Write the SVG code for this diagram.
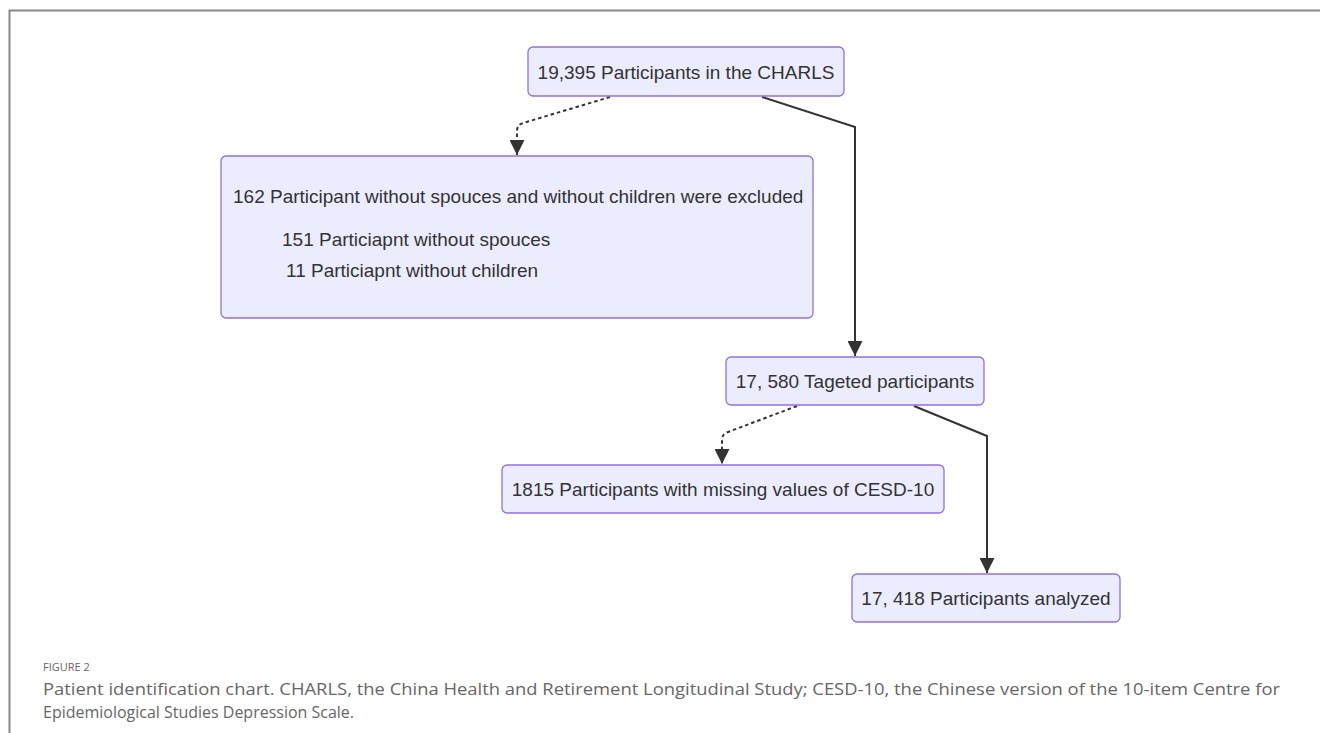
<svg xmlns="http://www.w3.org/2000/svg" width="1320" height="733" viewBox="0 0 1320 733">
<style>
.node rect{fill:#ECECFF;stroke:#9370DB;stroke-width:1.3}
.node text{font-family:"Liberation Sans",Arial,sans-serif;font-size:19px;fill:#333}
.edge{fill:none;stroke:#333;stroke-width:2}
.dash{stroke-dasharray:3.5 3}
.cap{font-family:"Open Sans",sans-serif;fill:#666}
</style>
<defs>
<marker id="arrow" viewBox="0 0 10 10" refX="10" refY="5" markerWidth="7.5" markerHeight="7.5" markerUnits="strokeWidth" orient="auto">
<path d="M0,0 L10,5 L0,10 z" fill="#333"/>
</marker>
</defs>
<rect width="1320" height="733" fill="#fff"/>
<path d="M9.5,733 V10.5 H1320" fill="none" stroke="#888" stroke-width="2"/>
<g id="connectors">
<path class="edge dash" d="M610,97 L523,123 Q517,125 517,131 V155" marker-end="url(#arrow)"/>
<path class="edge" d="M762,97 L855,127 V356" marker-end="url(#arrow)"/>
<path class="edge dash" d="M797,406 L728,432 Q722,434 722,440 V464" marker-end="url(#arrow)"/>
<path class="edge" d="M914,406 L987,436 V573" marker-end="url(#arrow)"/>
</g>
<g id="n1" class="node"><rect x="528" y="47" width="316" height="49" rx="5"/><text x="686" y="78.5" text-anchor="middle">19,395 Participants in the CHARLS</text></g>
<g id="n2" class="node"><rect x="221" y="156" width="592" height="162" rx="5"/>
<text x="233" y="203">162 Participant without spouces and without children were excluded</text>
<text x="282" y="246">151 Particiapnt without spouces</text>
<text x="286" y="277">11 Particiapnt without children</text></g>
<g id="n3" class="node"><rect x="726" y="357" width="258" height="48" rx="5"/><text x="855" y="388" text-anchor="middle">17, 580 Tageted participants</text></g>
<g id="n4" class="node"><rect x="502" y="465" width="442" height="48" rx="5"/><text x="723" y="496" text-anchor="middle">1815 Participants with missing values of CESD-10</text></g>
<g id="n5" class="node"><rect x="852" y="574" width="268" height="48" rx="5"/><text x="986" y="605" text-anchor="middle">17, 418 Participants analyzed</text></g>
<text class="cap" x="43" y="671" font-size="11">FIGURE 2</text>
<text class="cap" x="43" y="695" font-size="17" textLength="1237" lengthAdjust="spacingAndGlyphs">Patient identification chart. CHARLS, the China Health and Retirement Longitudinal Study; CESD-10, the Chinese version of the 10-item Centre for</text>
<text class="cap" x="43" y="718" font-size="17" textLength="311" lengthAdjust="spacingAndGlyphs">Epidemiological Studies Depression Scale.</text>
</svg>
